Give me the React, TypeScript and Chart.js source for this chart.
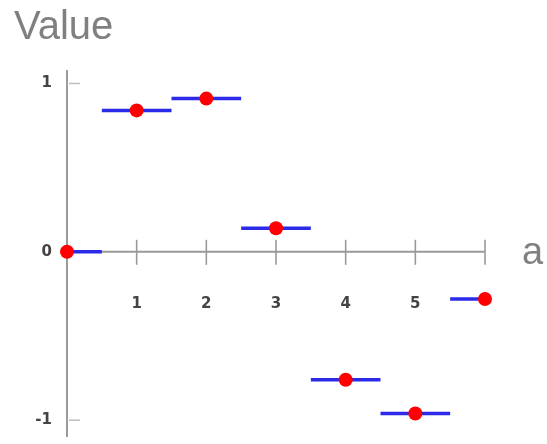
import React, { useEffect, useRef } from "react";
import { Chart, registerables } from "chart.js";

Chart.register(...registerables);

// Sample index and the held sample value at each index
const samples = [0, 1, 2, 3, 4, 5, 6];
const values = [0, 0.84, 0.91, 0.14, -0.76, -0.96, -0.28];
const xTicks = [1, 2, 3, 4, 5, 6];
const xTickLabels = ["1", "2", "3", "4", "5", ""];
const yTicks = [1, 0, -1];
const yTickLabels = ["1", "0", "-1"];
const xTitle = "a";
const yTitle = "Value";

const X_MIN = 0;
const X_MAX = 6;
const Y_MIN = -1.1;
const Y_MAX = 1.08;

// Each sample is held over half a step on either side, clipped to the domain
const holdSegments = samples.map((s, i) => [
  { x: Math.max(X_MIN, s - 0.5), y: values[i] },
  { x: Math.min(X_MAX, s + 0.5), y: values[i] },
]);

const axesPlugin = {
  id: "crossAxes",
  beforeDatasetsDraw(chart: any) {
    const { ctx, chartArea, scales } = chart;
    const xs = scales.x;
    const ys = scales.y;
    const y0 = ys.getPixelForValue(0);
    const x0 = xs.getPixelForValue(0);
    ctx.save();
    ctx.strokeStyle = "#9a9a9a";
    ctx.lineWidth = 2;
    // vertical axis
    ctx.beginPath();
    ctx.moveTo(x0, chartArea.top);
    ctx.lineTo(x0, chartArea.bottom);
    ctx.stroke();
    // horizontal axis
    ctx.beginPath();
    ctx.moveTo(x0, y0);
    ctx.lineTo(xs.getPixelForValue(X_MAX), y0);
    ctx.stroke();
    // x ticks crossing the axis
    ctx.lineWidth = 1.6;
    xTicks.forEach((t) => {
      const px = xs.getPixelForValue(t);
      ctx.beginPath();
      ctx.moveTo(px, y0 - 12);
      ctx.lineTo(px, y0 + 13);
      ctx.stroke();
    });
    // y ticks to the right of the axis
    ctx.strokeStyle = "#bdbdbd";
    ctx.lineWidth = 1.5;
    yTicks.forEach((t) => {
      if (t === 0) return;
      const py = ys.getPixelForValue(t);
      ctx.beginPath();
      ctx.moveTo(x0 + 2, py);
      ctx.lineTo(x0 + 13, py);
      ctx.stroke();
    });
    // tick labels
    ctx.fillStyle = "#444";
    ctx.font = "bold 15px 'DejaVu Sans'";
    ctx.textAlign = "center";
    ctx.textBaseline = "middle";
    xTicks.forEach((t, i) => {
      ctx.fillText(xTickLabels[i], xs.getPixelForValue(t), y0 + 52);
    });
    ctx.textAlign = "right";
    yTicks.forEach((t, i) => {
      ctx.fillText(yTickLabels[i], x0 - 15, ys.getPixelForValue(t));
    });
    // axis titles
    ctx.fillStyle = "#808080";
    ctx.font = "38px 'Liberation Sans'";
    ctx.textAlign = "left";
    ctx.textBaseline = "alphabetic";
    ctx.fillText(xTitle, xs.getPixelForValue(X_MAX) + 37, y0 + 12);
    ctx.font = "40px 'Liberation Sans'";
    ctx.fillText(yTitle, 14, 39);
    ctx.restore();
  },
};

export default function App() {
  const ref = useRef<HTMLCanvasElement>(null);
  useEffect(() => {
    if (!ref.current) return;
    const datasets: any[] = holdSegments.map((seg) => ({
      type: "line",
      data: seg,
      borderColor: "#2a2ae8",
      borderWidth: 3.5,
      pointRadius: 0,
      clip: false,
      order: 2,
    }));
    datasets.push({
      type: "scatter",
      data: samples.map((s, i) => ({ x: s, y: values[i] })),
      backgroundColor: "#ff0000",
      borderWidth: 0,
      pointRadius: 7,
      clip: false,
      order: 1,
    });
    const chart = new Chart(ref.current, {
      type: "scatter",
      data: { datasets },
      options: {
        animation: false,
        responsive: false,
        layout: { padding: { left: 67, right: 62, top: 70, bottom: 5 } },
        plugins: { legend: { display: false }, tooltip: { enabled: false } },
        scales: {
          x: { type: "linear", min: X_MIN, max: X_MAX, display: false },
          y: { type: "linear", min: Y_MIN, max: Y_MAX, display: false },
        },
      },
      plugins: [axesPlugin],
    });
    return () => chart.destroy();
  }, []);
  return (
    <div style={{ position: "absolute", left: 0, top: 0, width: 547, height: 444, background: "#fff" }}>
      <canvas ref={ref} width={547} height={444} />
    </div>
  );
}
